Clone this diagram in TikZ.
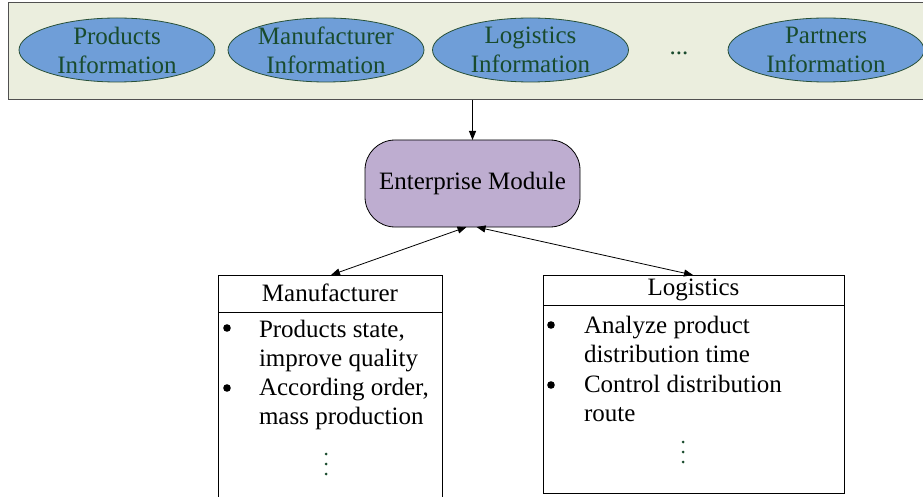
\documentclass[tikz,border=0pt]{standalone}
\usepackage{fontspec}
\setmainfont{Liberation Serif}
\usetikzlibrary{arrows.meta,shapes.geometric,calc}

\definecolor{panelfill}{RGB}{235,238,222}
\definecolor{panelline}{RGB}{80,80,80}
\definecolor{infofill}{RGB}{111,158,216}
\definecolor{infoline}{RGB}{40,80,55}
\definecolor{infotext}{RGB}{25,75,45}
\definecolor{entfill}{RGB}{190,173,208}

\begin{document}
\begin{tikzpicture}[x=1pt,y=-1pt,
  every node/.style={font=\fontsize{25}{29}\selectfont, inner sep=0pt, outer sep=0pt},
  infoshape/.style={ellipse, draw=infoline, line width=0.8pt, fill=infofill,
    minimum width=196pt, minimum height=64pt},
  infolabel/.style={text=infotext, align=center},
  listbox/.style={draw, line width=0.8pt, fill=white, rectangle},
  item/.style={anchor=base west},
  bulletdot/.style={fill=black},
  link/.style={line width=0.8pt, {Triangle[length=9pt,width=7pt]}-{Triangle[length=9pt,width=7pt]}},
  feed/.style={line width=0.8pt, -{Triangle[length=9pt,width=7pt]}}
]
\useasboundingbox (0,0) rectangle (923,497);

% information panel
\node[draw=panelline, line width=1pt, fill=panelfill, minimum width=917pt,
      minimum height=97pt, anchor=north west] (panel) at (8,3) {};

\node[infoshape] (prod) at (117,50) {};
\node[infolabel] at (prod) {Products\\Information};
\node[infoshape] (manu) at (326,50) {};
\node[infolabel] at (manu) {Manufacturer\\Information};
\node[infoshape] (logi) at (530.5,50) {};
\node[infolabel] at (logi) {Logistics\\Information};
\node[text=infotext, anchor=base] (more) at (679,55) {...};
\node[infoshape] (part) at (826,50) {};
\node[infolabel] at (part) {Partners\\Information};

% enterprise module
\node[draw, line width=0.8pt, fill=entfill, rounded corners=30pt,
      minimum width=215pt, minimum height=87pt] (ent) at (472.5,183.5) {Enterprise Module};

\coordinate (feedtop) at (panel.south -| ent.north);
\draw[feed] (feedtop) -- (ent.north);

% manufacturer box
\node[listbox, minimum width=224pt, minimum height=230pt, anchor=north west] (mbox) at (218,275) {};
\node (mtitle) at (330,293) {Manufacturer};
\draw[line width=0.8pt] ($(mbox.north west)+(0,37)$) -- ($(mbox.north east)+(0,37)$);
\fill[bulletdot] (227,328) circle (3.8pt);
\fill[bulletdot] (227,388) circle (3.8pt);
\node[item] (m1) at (259,337) {Products state,};
\node[item] (m2) at (259,366) {improve quality};
\node[item] (m3) at (259,395) {According order,};
\node[item] (m4) at (259,424) {mass production};
\foreach \y in {454,464,474} \fill[infotext] (326,\y) circle (1.5pt);

% logistics box
\node[listbox, minimum width=301pt, minimum height=218pt, anchor=north west] (lbox) at (543,275) {};
\node (ltitle) at (693.5,290) {Logistics};
\draw[line width=0.8pt] ($(lbox.north west)+(0,30)$) -- ($(lbox.north east)+(0,30)$);
\fill[bulletdot] (551,325) circle (3.8pt);
\fill[bulletdot] (551,385) circle (3.8pt);
\node[item] (l1) at (584,333) {Analyze product};
\node[item] (l2) at (584,362) {distribution time};
\node[item] (l3) at (584,392) {Control distribution};
\node[item] (l4) at (584,421) {route};
\foreach \y in {442,452,462} \fill[infotext] (683,\y) circle (1.5pt);

% links between the enterprise module and the two boxes
\coordinate (entl) at ($(ent.south)+(-6,0)$);
\coordinate (entr) at ($(ent.south)+(4,0)$);
\coordinate (mtop) at (331,275);
\coordinate (ltop) at (693,275);
\draw[link] (entl) -- (mtop);
\draw[link] (entr) -- (ltop);
\end{tikzpicture}
\end{document}
